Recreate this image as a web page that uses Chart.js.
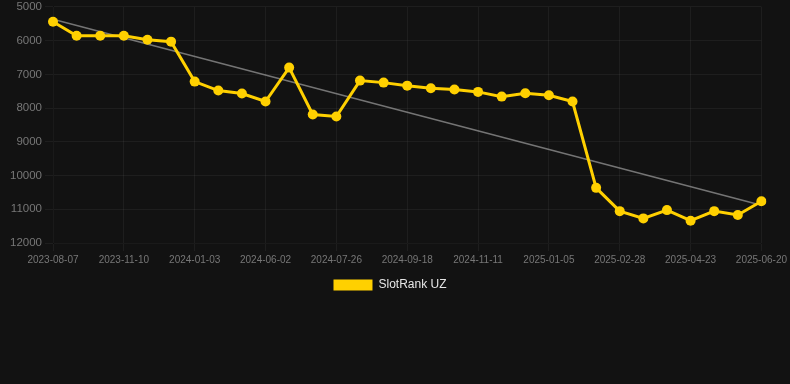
<!DOCTYPE html>
<html>
<head>
<meta charset="utf-8">
<script src="https://cdn.jsdelivr.net/npm/chart.js@4"></script>
<style>
  html, body { margin: 0; padding: 0; background: #121212; overflow: hidden; }
  #wrap { position: relative; width: 790px; height: 304px; margin-top: -3px; }
</style>
</head>
<body>
<div id="wrap"><canvas id="rank-chart"></canvas></div>
<script>
// dates on the x axis (only every third one is shown)
const dates = [
  '2023-08-07', '2023-09-05', '2023-10-09', '2023-11-10', '2023-11-28', '2023-12-15',
  '2024-01-03', '2024-02-12', '2024-04-08', '2024-06-02', '2024-06-20', '2024-07-08',
  '2024-07-26', '2024-08-13', '2024-08-31', '2024-09-18', '2024-10-06', '2024-10-24',
  '2024-11-11', '2024-11-29', '2024-12-17', '2025-01-05', '2025-01-23', '2025-02-10',
  '2025-02-28', '2025-03-18', '2025-04-05', '2025-04-23', '2025-05-11', '2025-06-02',
  '2025-06-20'
];

const rankUZ = [
  5440, 5855, 5855, 5855, 5975, 6030, 7215, 7480, 7570, 7805, 6800, 8190,
  8250, 7185, 7245, 7335, 7410, 7450, 7520, 7660, 7560, 7620, 7805, 10365,
  11055, 11270, 11025, 11340, 11055, 11170, 10760
];

// trend line, first and last value only
const trendUZ = [5365].concat(new Array(29).fill(null), [10880]);

const yTicks = { min: 5000, max: 12000, step: 1000 };

// nudge the legend a little to the left, like the original
const legendShift = {
  id: 'legendShift',
  afterLayout(chart) {
    const lg = chart.legend;
    if (lg) { lg.left -= 5; lg.right -= 5; }
  }
};

const ctx = document.getElementById('rank-chart').getContext('2d');
new Chart(ctx, {
  type: 'line',
  data: {
    labels: dates,
    datasets: [
      {
        label: 'SlotRank UZ',
        data: rankUZ,
        borderColor: '#ffd000',
        backgroundColor: '#ffd000',
        borderWidth: 3,
        pointRadius: 5,
        pointBackgroundColor: '#ffd000',
        pointBorderWidth: 0,
        tension: 0
      },
      {
        label: 'trend',
        data: trendUZ,
        borderColor: 'rgba(150,150,150,0.75)',
        borderWidth: 1.5,
        pointRadius: 0,
        spanGaps: true
      }
    ]
  },
  plugins: [legendShift],
  options: {
    responsive: true,
    maintainAspectRatio: false,
    animation: false,
    layout: { padding: 0 },
    plugins: {
      legend: {
        position: 'bottom',
        labels: {
          color: '#e6e6e6',
          font: { family: 'Arial, Liberation Sans', size: 12 },
          boxWidth: 39,
          boxHeight: 11,
          generateLabels: (chart) => Chart.defaults.plugins.legend.labels.generateLabels(chart)
            .filter(item => item.text !== 'trend')
            .map(item => Object.assign(item, { lineWidth: 0 }))
        }
      },
      tooltip: { enabled: false }
    },
    scales: {
      x: {
        grid: { color: 'rgba(255,255,255,0.05)' },
        ticks: {
          color: '#777',
          font: { family: 'Arial, Liberation Sans', size: 10 },
          maxRotation: 0,
          autoSkip: true,
          maxTicksLimit: 11
        }
      },
      y: {
        reverse: true,
        min: yTicks.min,
        max: yTicks.max,
        afterFit: (axis) => { axis.width = 53; },
        grid: { color: 'rgba(255,255,255,0.05)' },
        ticks: {
          stepSize: yTicks.step,
          color: '#777',
          font: { family: 'Arial, Liberation Sans', size: 11.5 },
          callback: (v) => String(v)
        }
      }
    }
  }
});
</script>
</body>
</html>
